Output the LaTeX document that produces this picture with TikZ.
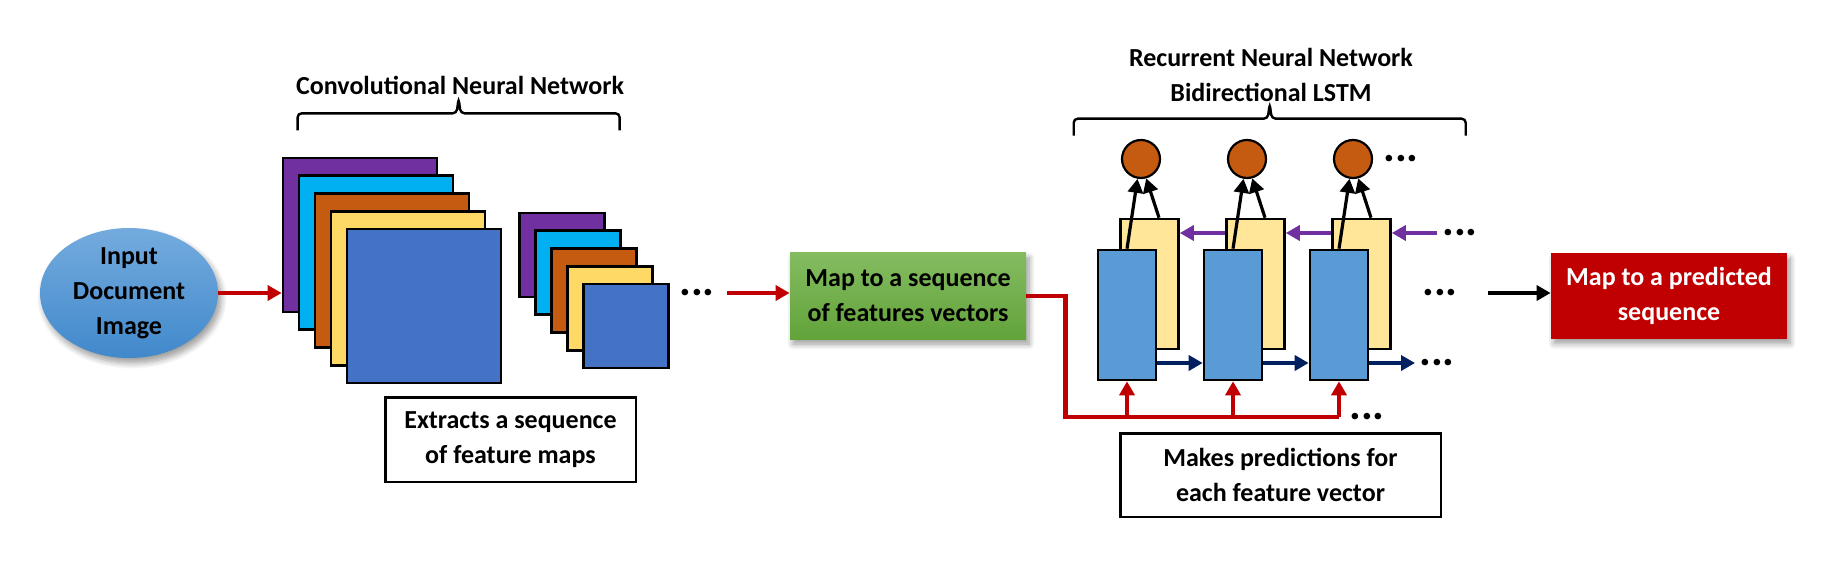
\documentclass[tikz,border=0pt]{standalone}
\usepackage{fontspec}
\setmainfont{Carlito}
\usetikzlibrary{shapes,arrows.meta,positioning,shadows.blur}

\definecolor{inputblueA}{HTML}{74ABDE}
\definecolor{inputblueB}{HTML}{4189CB}
\definecolor{convpurple}{HTML}{7030A0}
\definecolor{convcyan}{HTML}{00B0F0}
\definecolor{convorange}{HTML}{C55A11}
\definecolor{convyellow}{HTML}{FFD966}
\definecolor{convblue}{HTML}{4472C4}
\definecolor{mapgreenA}{HTML}{84BC61}
\definecolor{mapgreenB}{HTML}{62A33A}
\definecolor{cellblue}{HTML}{5B9BD5}
\definecolor{cellyellow}{HTML}{FFE699}
\definecolor{outorange}{HTML}{C55A11}
\definecolor{predred}{HTML}{C00000}
\definecolor{fwdnavy}{HTML}{002060}
\definecolor{backpurple}{HTML}{7030A0}

\begin{document}
\begin{tikzpicture}[auto, node distance=2cm, >={Triangle[length=7pt,width=7.5pt]},
    every node/.style={font=\fontsize{13pt}{17.5pt}\selectfont\bfseries},
    softshadow/.style={blur shadow={shadow xshift=1.5pt, shadow yshift=-2.5pt, shadow blur radius=3pt, shadow blur steps=8}},
    stackbox/.style={draw, rectangle, line width=1.4pt, minimum size=77pt, inner sep=0pt},
    smallstack/.style={draw, rectangle, line width=1.4pt, minimum width=42.5pt, minimum height=42pt, inner sep=0pt},
    lstmcell/.style={draw, rectangle, line width=1.3pt, minimum width=29pt, minimum height=65pt, inner sep=0pt},
    outcirc/.style={draw, circle, fill=outorange, line width=1.1pt, minimum size=19pt, inner sep=0pt},
    textbox/.style={draw, rectangle, line width=1.3pt, align=center, inner sep=0pt},
    mapbox/.style={rectangle, top color=mapgreenA, bottom color=mapgreenB, minimum width=118pt, minimum height=43pt, align=center, softshadow},
    predbox/.style={rectangle, fill=predred, text=white, minimum width=118pt, minimum height=42.5pt, align=center, softshadow},
    moredots/.style={font=\fontsize{22pt}{22pt}\selectfont\bfseries, inner sep=0pt},
    bracepath/.style={line width=1.2pt, rounded corners=2pt},
    redline/.style={draw=predred, line width=2.2pt},
    redarrow/.style={redline, ->},
    fwdarrow/.style={->, draw=fwdnavy, line width=2.3pt},
    backarrow/.style={->, draw=backpurple, line width=2.3pt}]

        % Entrada e rede convolucional
        \node [ellipse, top color=inputblueA, bottom color=inputblueB, minimum width=89pt, minimum height=65pt, inner sep=0pt, align=center, softshadow] (input) {Input\\Document\\Image};
        \useasboundingbox ([xshift=-64.5pt, yshift=146.5pt]input.center) rectangle ([xshift=852.5pt, yshift=-145pt]input.center);
        \node [stackbox, fill=convpurple, right of=input, node distance=115.5pt, yshift=29pt] (c1p) {};
        \node [stackbox, fill=convcyan, right of=c1p, node distance=8pt, yshift=-8.875pt] (c1c) {};
        \node [stackbox, fill=convorange, right of=c1c, node distance=8pt, yshift=-8.875pt] (c1o) {};
        \node [stackbox, fill=convyellow, right of=c1o, node distance=8pt, yshift=-8.875pt] (c1y) {};
        \node [stackbox, fill=convblue, right of=c1y, node distance=8pt, yshift=-8.875pt] (c1b) {};
        \node [smallstack, fill=convpurple, right of=c1p, node distance=101pt, yshift=-10pt] (c2p) {};
        \node [smallstack, fill=convcyan, right of=c2p, node distance=8pt, yshift=-8.875pt] (c2c) {};
        \node [smallstack, fill=convorange, right of=c2c, node distance=8pt, yshift=-8.875pt] (c2o) {};
        \node [smallstack, fill=convyellow, right of=c2o, node distance=8pt, yshift=-8.875pt] (c2y) {};
        \node [smallstack, fill=convblue, right of=c2y, node distance=8pt, yshift=-8.875pt] (c2b) {};
        \node [above of=c1p, node distance=75pt, xshift=50pt] (cnntitle) {Convolutional Neural Network};
        \node [textbox, minimum width=125.3pt, minimum height=42.3pt, below of=c1b, node distance=66.75pt, xshift=43.25pt] (extracts) {Extracts a sequence\\of feature maps};

        % Mapeamento
        \node [mapbox, right of=input, node distance=389.5pt, yshift=-1.5pt] (mapseq) {Map to a sequence\\of features vectors};
        \node [moredots, left of=mapseq, node distance=105.5pt, yshift=1.5pt] (morecnn) {...};

        % Rede recorrente
        \node [lstmcell, fill=cellyellow, right of=mapseq, node distance=120.75pt, yshift=6pt] (y1) {};
        \node [lstmcell, fill=cellblue, left of=y1, node distance=11.25pt, yshift=-15.5pt] (b1) {};
        \node [lstmcell, fill=cellyellow, right of=y1, node distance=53pt] (y2) {};
        \node [lstmcell, fill=cellblue, left of=y2, node distance=11.25pt, yshift=-15.5pt] (b2) {};
        \node [lstmcell, fill=cellyellow, right of=y2, node distance=53pt] (y3) {};
        \node [lstmcell, fill=cellblue, left of=y3, node distance=11.25pt, yshift=-15.5pt] (b3) {};
        \node [outcirc, above of=b1, node distance=78pt, xshift=7pt] (o1) {};
        \node [outcirc, above of=b2, node distance=78pt, xshift=7pt] (o2) {};
        \node [outcirc, above of=b3, node distance=78pt, xshift=7pt] (o3) {};
        \node [above of=o2, node distance=42.25pt, xshift=12pt, align=center] (rnntitle) {Recurrent Neural Network\\Bidirectional LSTM};
        \node [textbox, minimum width=160.3pt, minimum height=41.8pt, below of=b2, node distance=80pt, xshift=23.75pt] (makes) {Makes predictions for\\each feature vector};
        \coordinate [below of=b3, node distance=51pt] (feedend);
        \node [moredots, right of=o3, node distance=24pt] (moreout) {...};
        \node [moredots, right of=y3, node distance=49.25pt, yshift=25.5pt] (moreback) {...};
        \node [moredots, right of=b3, node distance=50.5pt, yshift=11pt] (moremid) {...};
        \node [moredots, right of=b3, node distance=49pt, yshift=-24pt] (morefwd) {...};
        \node [moredots, right of=feedend, node distance=14pt] (morefeed) {...};

        % Saída
        \node [predbox, right of=mapseq, node distance=380.5pt] (predseq) {Map to a predicted\\sequence};

        % Conexões
        \draw [redarrow] (input.east) -- (input.east -| c1p.west);
        \draw [redarrow] ([xshift=15pt]morecnn.center) -- (mapseq.west |- morecnn);
        \draw [redline] (mapseq.east) -- ++(19.5pt,0) |- (feedend);
        \draw [redarrow] (b1 |- feedend) -- (b1.south);
        \draw [redarrow] (b2 |- feedend) -- (b2.south);
        \draw [redarrow] (b3 |- feedend) -- (b3.south);
        \draw [->, line width=1.6pt] (b1.north) -- (o1.-100);
        \draw [->, line width=1.6pt] ([xshift=4.75pt]y1.north) -- (o1.-75);
        \draw [->, line width=1.6pt] (b2.north) -- (o2.-100);
        \draw [->, line width=1.6pt] ([xshift=4.75pt]y2.north) -- (o2.-75);
        \draw [->, line width=1.6pt] (b3.north) -- (o3.-100);
        \draw [->, line width=1.6pt] ([xshift=4.75pt]y3.north) -- (o3.-75);
        \draw [backarrow] ([yshift=25.5pt]y2.west) -- ([yshift=25.5pt]y1.east);
        \draw [backarrow] ([yshift=25.5pt]y3.west) -- ([yshift=25.5pt]y2.east);
        \draw [backarrow] ([xshift=-11.5pt]moreback.center) -- ([yshift=25.5pt]y3.east);
        \draw [fwdarrow] ([yshift=-24pt]b1.east) -- ([yshift=-24pt]b2.west);
        \draw [fwdarrow] ([yshift=-24pt]b2.east) -- ([yshift=-24pt]b3.west);
        \draw [fwdarrow] ([yshift=-24pt]b3.east) -- ([xshift=-11pt]morefwd.center);
        \draw [->, line width=2.4pt] ([xshift=24pt]moremid.center) -- (predseq.west |- moremid);

        % Chaves
        \draw [bracepath] ([yshift=22pt]c1c.north west) -- ++(0,8.5pt) -- ++(79.5pt,0) -- ++(1pt,7.5pt) -- ++(1pt,-7.5pt) -- ++(79.5pt,0) -- ++(0,-8.5pt);
        \draw [bracepath] ([xshift=-11.5pt, yshift=56.5pt]b1.north west) -- ++(0,8.5pt) -- ++(97pt,0) -- ++(1pt,7.5pt) -- ++(1pt,-7.5pt) -- ++(97pt,0) -- ++(0,-8.5pt);

    \end{tikzpicture}
\end{document}
